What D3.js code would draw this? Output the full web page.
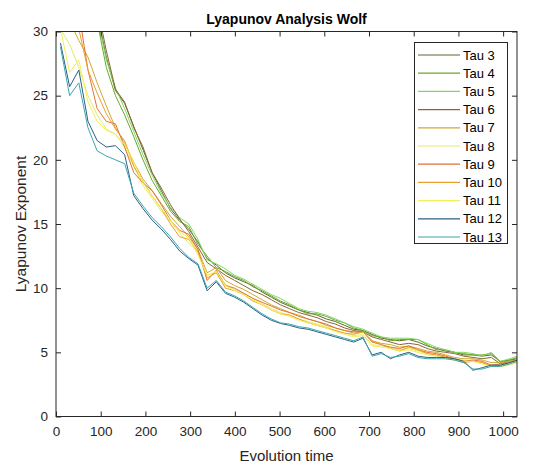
<!DOCTYPE html>
<html><head><meta charset="utf-8">
<script src="https://cdn.jsdelivr.net/npm/d3@7"></script>
<style>
body{margin:0;background:#fff;}
svg{display:block;font-family:"Liberation Sans",Arial,Helvetica,sans-serif;}
</style></head>
<body><svg id="c" width="537" height="465"></svg>
<script>
const xs = [10,30.5,51,71.5,92,112.5,133,153.5,174,194.5,215,235.5,256,276.5,297,317.5,338,358.5,379,399.5,420,440.5,461,481.5,502,522.5,543,563.5,584,604.5,625,645.5,666,686.5,707,727.5,748,768.5,789,809.5,830,850.5,871,891.5,912,932.5,953,973.5,994,1014.5,1032];
const tau3 = [42,39,36.5,34,31.5,28.0,25.4,24.4,22.6,20.8, 19.0,17.6,16.2,15.3,14.6,13.6,12.3,11.8,11.2,10.8, 10.5,10.2,9.7,9.3,8.9,8.6,8.3,8.1,7.9,7.6, 7.4,7.1,6.8,6.7,6.4,6.1,6.0,5.9,6.0,5.8, 5.5,5.3,5.1,5.0,4.8,4.8,4.7,4.8,4.3,4.4, 4.5];
const tau4 = [40,37.5,35,33,30.8,27.2,25.0,23.5,21.8,20.0, 18.4,17.2,16.0,15.2,14.8,13.4,12.5,11.6,11.3,10.9, 10.6,10.1,9.8,9.4,9.0,8.7,8.3,8.0,8.0,7.8, 7.5,7.3,6.9,6.7,6.3,6.2,5.9,6.0,6.0,6.0, 5.6,5.2,5.2,5.0,4.9,4.8,4.8,4.9,4.2,4.4, 4.6];
const tau5 = [41,38,35.5,33.5,31.2,27.8,25.6,24.0,22.2,20.4, 18.8,17.4,16.3,15.5,15.0,13.8,12.2,11.9,11.5,11.0, 10.7,10.3,9.9,9.5,9.2,8.8,8.4,8.2,8.1,7.9, 7.6,7.3,7.0,6.8,6.5,6.2,6.1,6.1,6.1,6.0, 5.7,5.4,5.2,5.0,5.0,4.9,4.7,5.0,4.3,4.5, 4.7];
const tau6 = [43,40,37,34.5,32.0,28.5,25.5,24.5,22.5,21.0, 19.0,17.8,16.5,15.4,14.4,13.2,12.0,11.5,11.0,10.6, 10.2,9.8,9.5,9.1,8.7,8.4,8.1,7.9,7.7,7.4, 7.2,6.9,6.7,6.6,6.2,6.0,5.8,5.6,5.7,5.6, 5.3,5.1,5.0,4.9,4.7,4.6,4.5,4.6,4.1,4.3, 4.4];
const tau7 = [34,30.8,29.3,28.0,26.0,24.2,22.5,21.3,19.8,18.5, 17.6,16.6,15.6,14.8,14.0,13.0,11.2,11.6,10.6,10.2, 9.9,9.5,9.1,8.7,8.4,8.1,7.9,7.6,7.4,7.1, 6.9,6.7,6.5,6.6,5.9,5.7,5.6,5.4,5.5,5.3, 5.1,5.0,4.8,4.6,4.5,4.5,4.4,4.2,4.2,4.3, 4.4];
const tau8 = [30.2,29.0,27.2,25.0,23.5,22.4,22.0,21.0,19.5,18.0, 17.0,16.0,15.2,14.3,13.5,12.8,11.0,11.2,10.3,9.9, 9.6,9.2,8.8,8.4,8.1,7.9,7.6,7.4,7.2,7.0, 6.7,6.5,6.3,6.4,5.6,5.5,5.4,5.2,5.3,5.1, 4.9,4.8,4.6,4.5,4.4,4.3,4.2,4.0,4.0,4.1, 4.3];
const tau9 = [38,35,31.5,27.0,24.0,23.0,22.8,21.0,19.0,18.2, 17.6,16.5,15.3,14.5,14.2,13.0,10.6,11.4,10.2,10.0, 9.6,9.2,8.9,8.6,8.3,8.1,7.8,7.6,7.4,7.2, 6.9,6.7,6.6,6.6,5.8,5.6,5.4,5.3,5.5,5.2, 5.0,4.9,4.7,4.5,4.3,4.4,4.3,4.0,4.1,4.2, 4.4];
const tau10 = [35,32.5,30.2,27.0,25.2,23.6,22.4,21.5,19.5,18.3, 17.2,16.2,15.0,14.0,13.8,12.8,10.8,11.2,10.0,9.8, 9.5,9.0,8.7,8.3,8.0,7.9,7.6,7.3,7.1,6.9, 6.7,6.5,6.4,6.6,5.9,5.6,5.3,5.1,5.4,5.2, 4.9,4.8,4.6,4.4,4.2,4.3,4.2,3.9,4.0,4.2, 4.5];
const tau11 = [30.2,26.8,27.8,24.5,23.0,22.3,22.0,21.2,19.8,18.2, 17.2,16.2,15.3,14.4,13.9,12.6,11.0,11.3,10.2,9.8, 9.5,9.1,8.7,8.3,8.0,7.8,7.5,7.3,7.1,6.9, 6.6,6.4,6.2,6.3,5.5,5.4,5.3,5.1,5.2,5.0, 4.8,4.7,4.5,4.4,4.3,4.3,4.1,3.9,3.9,4.0, 4.2];
const tau12 = [29.1,25.7,27.0,23.0,21.5,21.0,21.1,20.4,17.2,16.2, 15.3,14.6,13.8,12.9,12.3,11.8,9.8,10.5,9.6,9.3, 8.9,8.4,7.9,7.5,7.25,7.1,6.9,6.8,6.6,6.4, 6.2,6.0,5.8,6.1,4.8,5.0,4.5,4.8,5.0,4.7, 4.6,4.6,4.6,4.5,4.3,3.6,3.8,4.0,4.0,4.2, 4.4];
const tau13 = [28.8,25.0,26.0,22.5,20.7,20.3,20.0,19.7,17.4,16.4, 15.5,14.8,14.0,13.1,12.4,11.9,10.0,10.6,9.7,9.4, 9.0,8.5,8.0,7.6,7.3,7.2,7.0,6.9,6.7,6.5, 6.3,6.1,5.9,6.2,4.7,4.9,4.6,4.7,4.9,4.6, 4.5,4.5,4.5,4.4,4.2,3.7,3.7,3.9,3.9,4.1, 4.3];
const seriesNames = ["Tau 3","Tau 4","Tau 5","Tau 6","Tau 7","Tau 8","Tau 9","Tau 10","Tau 11","Tau 12","Tau 13"];
const seriesValues = [tau3,tau4,tau5,tau6,tau7,tau8,tau9,tau10,tau11,tau12,tau13];
const seriesColors = ["#5c6b2e","#6aa82e","#80d860","#8a6630","#d0a830","#e4ea6a","#e0703a","#eaa02a","#f4ee5a","#2a5f86","#3aa6ae"];
const xTicks = [0,100,200,300,400,500,600,700,800,900,1000];
const yTicks = [0,5,10,15,20,25,30];

const svg = d3.select("#c");
const L=56, R=517, T=31.5, B=416.5;
const axisColor="#262626";
const x = d3.scaleLinear().domain([0,1031]).range([L,R]);
const y = d3.scaleLinear().domain([0,30]).range([B,T]);

svg.append("rect").attr("width",537).attr("height",465).attr("fill","#fff");
svg.append("defs").append("clipPath").attr("id","clip").append("rect")
  .attr("x",L).attr("y",T).attr("width",R-L).attr("height",B-T);

const line = d3.line().x((d,i)=>x(xs[i])).y(d=>y(d));
const g = svg.append("g").attr("clip-path","url(#clip)");
seriesValues.forEach((vals,k)=>{
  g.append("path").attr("d",line(vals)).attr("fill","none")
   .attr("stroke",seriesColors[k]).attr("stroke-width",1);
});

function styleAxis(sel){
  sel.select(".domain").remove();
  sel.selectAll("line").attr("stroke",axisColor);
  sel.selectAll("text").attr("fill",axisColor).style("font-size","13.5px").style("font-family","'Liberation Sans',Arial,sans-serif");
}
svg.append("g").attr("transform",`translate(0,${B})`)
  .call(d3.axisBottom(x).tickValues(xTicks).tickFormat(d3.format("d")).tickSizeInner(-5).tickSizeOuter(0).tickPadding(10))
  .call(styleAxis);
svg.append("g").attr("transform",`translate(0,${T})`)
  .call(d3.axisTop(x).tickValues(xTicks).tickFormat("").tickSizeInner(-5).tickSizeOuter(0))
  .call(styleAxis);
svg.append("g").attr("transform",`translate(${L},0)`)
  .call(d3.axisLeft(y).tickValues(yTicks).tickFormat(d3.format("d")).tickSizeInner(-5).tickSizeOuter(0).tickPadding(8))
  .call(styleAxis);
svg.append("g").attr("transform",`translate(${R},0)`)
  .call(d3.axisRight(y).tickValues(yTicks).tickFormat("").tickSizeInner(-5).tickSizeOuter(0))
  .call(styleAxis);

svg.append("rect").attr("x",L).attr("y",T).attr("width",R-L).attr("height",B-T)
  .attr("fill","none").attr("stroke",axisColor).attr("stroke-width",1);

svg.append("text").attr("x",(L+R)/2).attr("y",24).attr("text-anchor","middle")
  .attr("font-weight","bold").attr("font-size","14px").attr("fill","#000").text("Lyapunov Analysis Wolf");
svg.append("text").attr("x",(L+R)/2).attr("y",461).attr("text-anchor","middle")
  .attr("font-size","15px").attr("fill",axisColor).text("Evolution time");
svg.append("text").attr("transform",`translate(26,${(T+B)/2}) rotate(-90)`).attr("text-anchor","middle")
  .attr("font-size","15.5px").attr("fill",axisColor).text("Lyapunov Exponent");

// legend
const lg = svg.append("g");
lg.append("rect").attr("x",414.5).attr("y",42.5).attr("width",93).attr("height",201)
  .attr("fill","#fff").attr("stroke",axisColor).attr("stroke-width",1);
seriesNames.forEach((n,k)=>{
  const yy = 55 + k*18.2;
  lg.append("line").attr("x1",418).attr("x2",460).attr("y1",yy).attr("y2",yy)
    .attr("stroke",seriesColors[k]).attr("stroke-width",1.2);
  lg.append("text").attr("x",463).attr("y",yy).attr("dy","0.35em")
    .attr("font-size","13px").attr("fill","#000").text(n);
});
</script></body></html>
